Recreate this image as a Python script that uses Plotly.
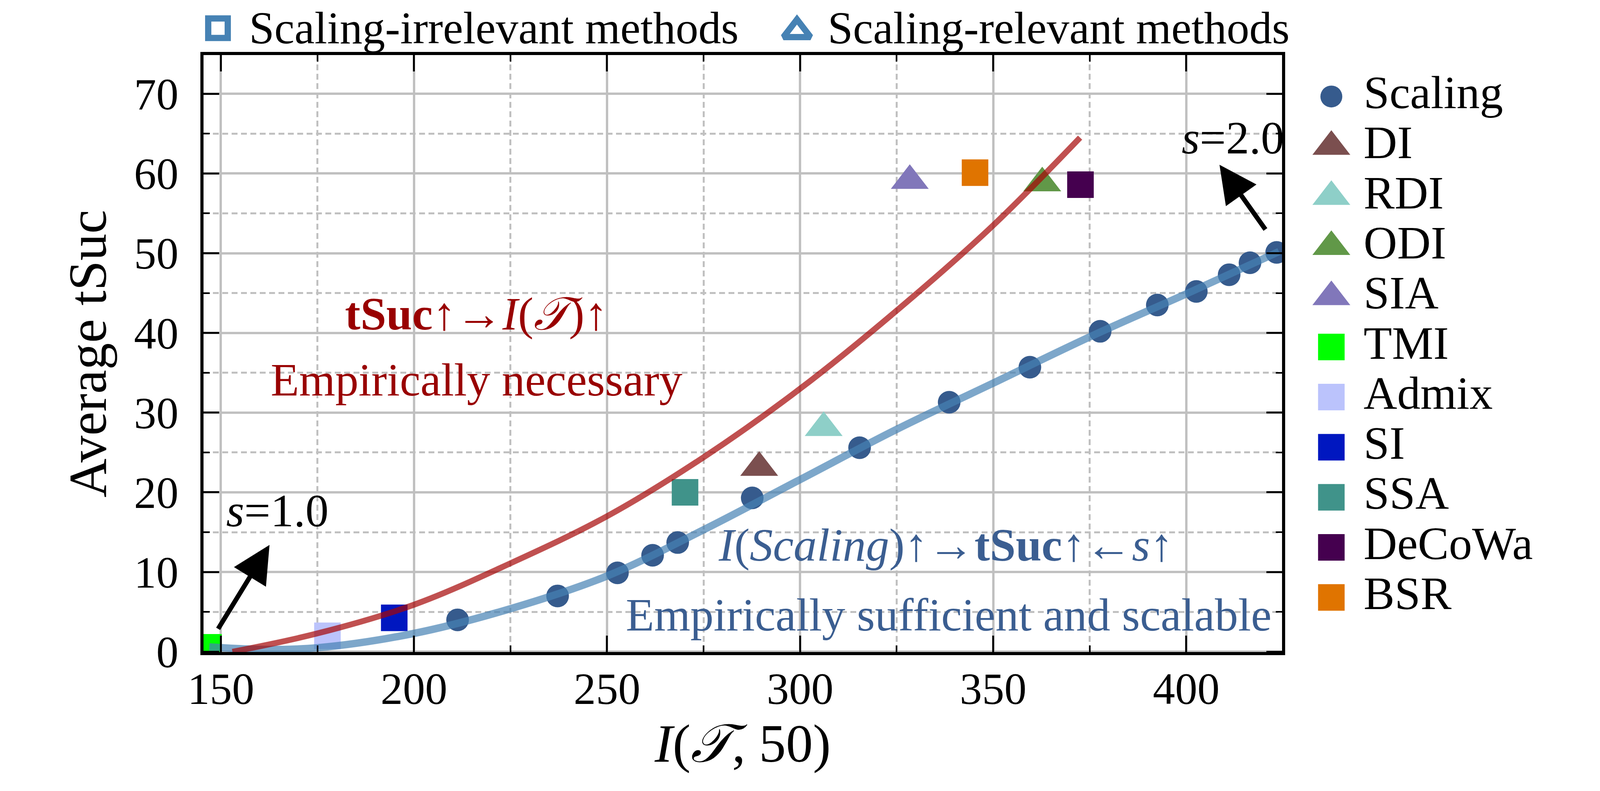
import plotly.graph_objects as go

# ---- data ----
# Scaling points (s = 1.0 ... 2.0)
scaling_x = [211.3, 237.2, 252.7, 261.8, 268.3, 287.6, 315.4, 338.6, 359.5, 377.7, 392.5, 402.6, 411.1, 416.5, 423.4]
scaling_y = [4.0, 7.0, 9.9, 12.1, 13.7, 19.3, 25.6, 31.3, 35.7, 40.2, 43.5, 45.2, 47.3, 48.8, 50.1]

# fitted trend through the scaling points (blue)
scaling_fit_x = [147, 160, 175, 200, 225, 250, 275, 300, 325, 350, 375, 400, 424]
scaling_fit_y = [0.6, 0.3, 0.5, 2.3, 5.4, 9.5, 15.3, 21.6, 27.9, 33.7, 39.5, 44.9, 50.2]

# "empirically necessary" curve (red)
necessary_x = [153, 175, 200, 225, 250, 275, 300, 325, 350, 372.5]
necessary_y = [0.0, 2.3, 5.9, 11.1, 17.0, 24.4, 33.0, 42.8, 53.5, 64.5]

# other transfer methods
methods = ['DI', 'RDI', 'ODI', 'SIA', 'TMI', 'Admix', 'SI', 'SSA', 'DeCoWa', 'BSR']
method_x = [289.4, 306.1, 362.7, 328.4, 146.8, 177.6, 194.9, 270.2, 372.6, 345.3]
method_y = [23.1, 28.1, 58.8, 59.1, 0.55, 2.0, 4.25, 20.0, 58.6, 60.1]
scaling_relevant = [True, True, True, True, False, False, False, False, False, False]

x_ticks = [150, 200, 250, 300, 350, 400]
y_ticks = [0, 10, 20, 30, 40, 50, 60, 70]

# ---- sizing: the visible page is about 4097 x 2034 css px ----
KX, KY = 4097 / 4370, 2034 / 2026
OFF = 8  # body margin
def PX(v):
    return KX * v - OFF
def PY(v):
    return KY * v - OFF

W, H = 4097 - 2 * OFF, 2034 - 2 * OFF
FONT = 'Liberation Serif, DejaVu Serif, serif'
method_colors = {
    'DI': '#7B4F4F', 'RDI': '#8ECFC8', 'ODI': '#619848', 'SIA': '#8177BA',
    'TMI': '#00FF00', 'Admix': '#BBC3FC', 'SI': '#0017C0', 'SSA': '#40938A',
    'DeCoWa': '#45004F', 'BSR': '#E07400',
}
DOT = '#365B8D'
RED_TXT = '#990000'
BLUE_TXT = '#3B5E91'
GRID = '#C0C0C0'
TRI_SIZE = 84
SQ_SIZE = 68
DOT_SIZE = 58
TXT_SIZE = 119
TOP_TXT_SIZE = 116
TICK_SIZE = 114
TITLE_SIZE = 138

# plot area (reference pixels -> css px)
L, R, T, B = PX(517), PX(3492), PY(145), PY(1718)

fig = go.Figure()

for name, mx, my, rel in zip(methods, method_x, method_y, scaling_relevant):
    fig.add_trace(go.Scatter(
        x=[mx], y=[my], mode='markers', name=name, showlegend=False,
        marker=dict(symbol='triangle-up' if rel else 'square',
                    size=TRI_SIZE if rel else SQ_SIZE,
                    color=method_colors[name], line=dict(width=0)),
    ))

fig.add_trace(go.Scatter(
    x=scaling_x, y=scaling_y, mode='markers', showlegend=False,
    marker=dict(symbol='circle', size=DOT_SIZE, color=DOT, line=dict(width=0)),
))
fig.add_trace(go.Scatter(
    x=scaling_fit_x, y=scaling_fit_y, mode='lines', showlegend=False,
    line=dict(color='rgba(70,130,180,0.7)', width=19, shape='spline', smoothing=1.0),
))
fig.add_trace(go.Scatter(
    x=necessary_x, y=necessary_y, mode='lines', showlegend=False,
    line=dict(color='rgba(165,5,5,0.7)', width=15, shape='spline', smoothing=1.0),
))

# ---- hand-drawn legends on an invisible pixel axis ----
LEG_MX, LEG_TX, LEG_ROW0, LEG_STEP = PX(3628), PX(3717), PY(254), 132 * KY
leg_names = ['Scaling'] + methods
leg_rows = [LEG_ROW0 + LEG_STEP * i for i in range(len(leg_names))]
for i, name in enumerate(leg_names):
    if name == 'Scaling':
        mk = dict(symbol='circle', size=56, color=DOT)
    else:
        rel = scaling_relevant[methods.index(name)]
        mk = dict(symbol='triangle-up' if rel else 'square',
                  size=TRI_SIZE if rel else SQ_SIZE, color=method_colors[name])
    fig.add_trace(go.Scatter(x=[LEG_MX], y=[leg_rows[i]], mode='markers', marker=mk,
                             showlegend=False, xaxis='x2', yaxis='y2', hoverinfo='skip'))
fig.add_trace(go.Scatter(
    x=[LEG_TX] * len(leg_names), y=leg_rows, mode='text', text=leg_names,
    textposition='middle right', textfont=dict(family=FONT, size=TXT_SIZE, color='black'),
    showlegend=False, xaxis='x2', yaxis='y2', hoverinfo='skip', cliponaxis=False))

top_items = [('Scaling-irrelevant methods', 'square-open', 50, PX(557), PX(643)),
             ('Scaling-relevant methods', 'triangle-up-open', 60, PX(2154), PX(2239))]
TOP_Y = PY(84)
for label, sym, sz, mx, tx in top_items:
    fig.add_trace(go.Scatter(x=[mx], y=[PY(74) + (8 if 'triangle' in sym else 0)], mode='markers',
                             marker=dict(symbol=sym, size=sz, color='#4682B4',
                                         line=dict(width=16, color='#4682B4')),
                             showlegend=False, xaxis='x2', yaxis='y2', hoverinfo='skip'))
    fig.add_trace(go.Scatter(x=[tx], y=[TOP_Y], mode='text', text=[label], textposition='middle right',
                             textfont=dict(family=FONT, size=TOP_TXT_SIZE, color='black'),
                             showlegend=False, xaxis='x2', yaxis='y2', hoverinfo='skip', cliponaxis=False))

# ---- annotations ----
ann = []
def txt(x, y, s, color):
    ann.append(dict(x=x, y=y, xref='x', yref='y', text=s, showarrow=False,
                    font=dict(family=FONT, size=TXT_SIZE, color=color),
                    xanchor='center', yanchor='middle'))

txt(216.2, 42.4, '<b>tSuc</b>↑→<i>I</i>(<i>𝒯</i>)↑', RED_TXT)
txt(216.3, 34.1, 'Empirically necessary', RED_TXT)
txt(337.8, 13.4, '<i>I</i>(<i>Scaling</i>)↑→<b>tSuc</b>↑←<i>s</i>↑', BLUE_TXT)
txt(338.5, 4.6, 'Empirically sufficient and scalable', BLUE_TXT)
txt(164.6, 17.7, '<i>s</i>=1.0', 'black')
txt(412.1, 64.5, '<i>s</i>=2.0', 'black')

for (hx, hy), (tx_, ty_) in [((162.6, 13.4), (149.2, 2.8)), ((408.6, 61.1), (420.6, 52.9))]:
    ann.append(dict(x=hx, y=hy, ax=tx_, ay=ty_, xref='x', yref='y', axref='x', ayref='y',
                    text='', showarrow=True, arrowhead=2, arrowsize=1.6, arrowwidth=12,
                    arrowcolor='black'))

axis_common = dict(
    showline=True, linecolor='black', linewidth=8, mirror='ticks',
    ticks='inside', tickwidth=5, tickcolor='black',
    showgrid=True, gridcolor=GRID, gridwidth=6, zeroline=False,
    tickfont=dict(family=FONT, size=TICK_SIZE, color='black'),
)
minor_common = dict(ticks='inside', tickwidth=4, tickcolor='black',
                    showgrid=True, gridcolor=GRID, gridwidth=5, griddash='15px,9px')

fig.update_layout(
    width=W, height=H,
    margin=dict(l=0, r=0, t=0, b=0),
    paper_bgcolor='white', plot_bgcolor='rgba(0,0,0,0)',
    showlegend=False,
    annotations=ann,
    xaxis=dict(**axis_common, domain=[L / W, R / W], range=[145.5, 424.8],
               tickvals=x_ticks, ticklen=42, ticklabelstandoff=-12,
               minor=dict(**minor_common, dtick=25, tick0=150, ticklen=17),
               title=dict(text='<i>I</i>(<i>𝒯</i>, 50)', font=dict(family=FONT, size=TITLE_SIZE, color='black'),
                          standoff=0)),
    yaxis=dict(**axis_common, domain=[1 - B / H, 1 - T / H], range=[-0.05, 74.85],
               tickvals=y_ticks, ticklen=40, ticklabelstandoff=33,
               minor=dict(**minor_common, dtick=5, tick0=0, ticklen=16),
               title=dict(text='Average tSuc', font=dict(family=FONT, size=TITLE_SIZE, color='black'),
                          standoff=28)),
    xaxis2=dict(domain=[0, 1], range=[0, W], visible=False, anchor='y2', fixedrange=True),
    yaxis2=dict(domain=[0, 1], range=[H, 0], visible=False, anchor='x2', fixedrange=True),
)

fig.write_html("out.html")
